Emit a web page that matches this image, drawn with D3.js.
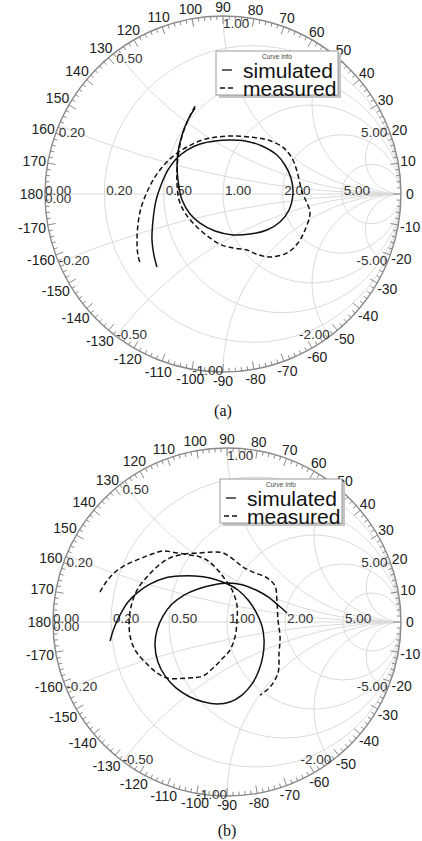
<!DOCTYPE html>
<html>
<head>
<meta charset="utf-8">
<script src="https://cdnjs.cloudflare.com/ajax/libs/d3/7.8.5/d3.min.js"></script>
<style>
  body { margin: 0; background: #fff; }
  svg text { font-family: "Liberation Sans", Arial, sans-serif; }
</style>
</head>
<body>
<svg id="chart" width="422" height="841"></svg>
<script>
// grid values of the smith chart
const resistances = [0, 0.2, 0.5, 1, 2, 5];
const reactances = [0.2, 0.5, 1, 2, 5, -0.2, -0.5, -1, -2, -5];
const angleLabels = d3.range(-170, 181, 10);
const legendNames = ["simulated", "measured"];
const captions = ["(a)", "(b)"];

// reflection coefficient [re, im], chart (a)
const simA = [
  [-0.157, 0.483], [-0.197, 0.416], [-0.230, 0.331], [-0.253, 0.236], [-0.258, 0.163],
  [-0.253, 0.079], [-0.230, -0.034], [-0.185, -0.112], [-0.129, -0.163], [-0.045, -0.208],
  [0.056, -0.230], [0.152, -0.225], [0.247, -0.202], [0.320, -0.157], [0.371, -0.090],
  [0.393, 0.006], [0.382, 0.090], [0.348, 0.163], [0.303, 0.219], [0.219, 0.270],
  [0.124, 0.298], [0.039, 0.303], [-0.045, 0.298], [-0.129, 0.281], [-0.202, 0.247],
  [-0.264, 0.197], [-0.309, 0.135], [-0.348, 0.051], [-0.376, -0.034], [-0.393, -0.146],
  [-0.399, -0.258], [-0.388, -0.343], [-0.371, -0.410]
];
const measA = [
  [-0.157, 0.494], [-0.191, 0.427], [-0.225, 0.343], [-0.247, 0.247], [-0.258, 0.146],
  [-0.258, 0.051], [-0.247, -0.034], [-0.213, -0.107], [-0.152, -0.180], [-0.073, -0.247],
  [-0.006, -0.287], [0.056, -0.303], [0.135, -0.315], [0.185, -0.337], [0.264, -0.354],
  [0.360, -0.331], [0.421, -0.275], [0.461, -0.202], [0.489, -0.107], [0.472, -0.051],
  [0.444, 0.011], [0.421, 0.107], [0.393, 0.191], [0.343, 0.258], [0.253, 0.303],
  [0.152, 0.320], [0.056, 0.326], [-0.034, 0.320], [-0.118, 0.303], [-0.191, 0.270],
  [-0.264, 0.225], [-0.326, 0.169], [-0.382, 0.096], [-0.427, 0.011], [-0.461, -0.079],
  [-0.478, -0.174], [-0.483, -0.270], [-0.478, -0.343], [-0.466, -0.388]
];

// chart (b)
const simB = [
  [-0.672, -0.109], [-0.649, -0.034], [-0.615, 0.040], [-0.569, 0.115], [-0.511, 0.172],
  [-0.443, 0.218], [-0.356, 0.253], [-0.270, 0.264], [-0.184, 0.264], [-0.098, 0.253],
  [-0.011, 0.224], [0.063, 0.184], [0.121, 0.126], [0.167, 0.057], [0.201, -0.023],
  [0.213, -0.103], [0.207, -0.190], [0.184, -0.276], [0.144, -0.356], [0.086, -0.420],
  [0.017, -0.460], [-0.057, -0.471], [-0.132, -0.460], [-0.213, -0.431], [-0.293, -0.379],
  [-0.356, -0.310], [-0.397, -0.230], [-0.414, -0.132], [-0.402, -0.046], [-0.368, 0.034],
  [-0.316, 0.103], [-0.247, 0.155], [-0.167, 0.190], [-0.080, 0.213], [0.006, 0.224],
  [0.092, 0.213], [0.167, 0.184], [0.236, 0.144], [0.293, 0.098], [0.345, 0.052]
];
const measB = [
  [-0.730, 0.172], [-0.695, 0.230], [-0.655, 0.276], [-0.603, 0.316], [-0.546, 0.345],
  [-0.489, 0.368], [-0.431, 0.391], [-0.368, 0.408], [-0.287, 0.397], [-0.213, 0.385],
  [-0.155, 0.374], [-0.109, 0.351], [-0.063, 0.310], [-0.017, 0.253], [0.029, 0.184],
  [0.057, 0.098], [0.057, 0.000], [0.046, -0.086], [0.017, -0.161], [-0.029, -0.213],
  [-0.080, -0.264], [-0.138, -0.310], [-0.230, -0.322], [-0.345, -0.322], [-0.402, -0.293],
  [-0.454, -0.247], [-0.517, -0.178], [-0.552, -0.103], [-0.563, -0.006], [-0.552, 0.086],
  [-0.517, 0.184], [-0.460, 0.259], [-0.397, 0.322], [-0.328, 0.368], [-0.241, 0.391],
  [-0.155, 0.397], [-0.080, 0.402], [-0.023, 0.397], [0.034, 0.362], [0.092, 0.316],
  [0.149, 0.287], [0.230, 0.253], [0.276, 0.207], [0.287, 0.126], [0.293, 0.011],
  [0.305, -0.086], [0.299, -0.178], [0.293, -0.293], [0.247, -0.374], [0.190, -0.420]
];

const svg = d3.select("#chart");

function drawSmith(cfg) {
  const x = d3.scaleLinear().domain([-1, 1]).range([cfg.cx - cfg.R, cfg.cx + cfg.R]);
  const y = d3.scaleLinear().domain([-1, 1]).range([cfg.cy + cfg.R, cfg.cy - cfg.R]);
  const k = cfg.R; // pixels per unit of gamma
  const g = svg.append("g");

  g.append("clipPath").attr("id", cfg.id + "clip")
    .append("circle").attr("cx", x(0)).attr("cy", y(0)).attr("r", k);

  const grid = g.append("g").attr("clip-path", "url(#" + cfg.id + "clip)")
    .attr("fill", "none").attr("stroke", "#dadada").attr("stroke-width", 1);

  grid.append("line")
    .attr("x1", x(-1)).attr("x2", x(1)).attr("y1", y(0)).attr("y2", y(0));

  grid.selectAll("circle.r")
    .data(resistances.filter(r => r > 0))
    .enter().append("circle").attr("class", "r")
    .attr("cx", r => x(r / (1 + r)))
    .attr("cy", y(0))
    .attr("r", r => k / (1 + r));

  grid.selectAll("circle.x")
    .data(reactances)
    .enter().append("circle").attr("class", "x")
    .attr("cx", x(1))
    .attr("cy", v => y(1 / v))
    .attr("r", v => k / Math.abs(v));

  // outer ring
  g.append("circle")
    .attr("cx", x(0)).attr("cy", y(0)).attr("r", k)
    .attr("fill", "none").attr("stroke", "#8a8a8a").attr("stroke-width", 1.4);

  g.selectAll("line.tick")
    .data(d3.range(0, 360, 2))
    .enter().append("line").attr("class", "tick")
    .attr("x1", a => x(Math.cos(a * Math.PI / 180)))
    .attr("y1", a => y(Math.sin(a * Math.PI / 180)))
    .attr("x2", a => x((1 - (a % 10 == 0 ? 8 : 4) / k) * Math.cos(a * Math.PI / 180)))
    .attr("y2", a => y((1 - (a % 10 == 0 ? 8 : 4) / k) * Math.sin(a * Math.PI / 180)))
    .attr("stroke", "#8a8a8a").attr("stroke-width", 1);

  // angle labels around the rim
  g.selectAll("text.ang")
    .data(angleLabels)
    .enter().append("text").attr("class", "ang")
    .attr("text-anchor", "middle")
    .attr("dominant-baseline", "central")
    .attr("font-size", 14)
    .attr("fill", "#222")
    .text(a => a)
    .each(function(a) {
      const t = a * Math.PI / 180;
      const w = this.getComputedTextLength();
      const rr = 1 + (9 + Math.max(0, (w - 14) / 2) * Math.abs(Math.cos(t))) / k;
      d3.select(this).attr("x", x(rr * Math.cos(t))).attr("y", y(rr * Math.sin(t)));
    });

  // resistance labels on the real axis
  g.selectAll("text.rl")
    .data(resistances)
    .enter().append("text").attr("class", "rl")
    .attr("x", r => x((r - 1) / (r + 1)) + (r == 0 ? 0 : 2))
    .attr("y", y(0) - 4)
    .attr("dominant-baseline", "central")
    .attr("font-size", 13.5).attr("fill", "#333")
    .text(r => r.toFixed(2));

  g.append("text")
    .attr("x", x(-1)).attr("y", y(0) + 4)
    .attr("dominant-baseline", "central")
    .attr("font-size", 13.5).attr("fill", "#333")
    .text("0.00");

  // reactance labels where the arcs meet the rim
  g.selectAll("text.xl")
    .data(reactances)
    .enter().append("text").attr("class", "xl")
    .attr("x", v => x((v * v - 1) / (v * v + 1)))
    .attr("y", v => y(2 * v / (v * v + 1)) + (v > 0 ? 7 : -2))
    .attr("text-anchor", v => (Math.abs(v) > 1 || v == -1) ? "end" : "start")
    .attr("dominant-baseline", "central")
    .attr("font-size", 13.5).attr("fill", "#333")
    .text(v => v.toFixed(2));

  const line = d3.line()
    .x(d => x(d[0])).y(d => y(d[1]))
    .curve(d3.curveCatmullRom.alpha(0.5));

  g.append("path").datum(cfg.sim)
    .attr("d", line).attr("fill", "none")
    .attr("stroke", "#111").attr("stroke-width", 1.5);
  g.append("path").datum(cfg.meas)
    .attr("d", line).attr("fill", "none")
    .attr("stroke", "#111").attr("stroke-width", 1.5)
    .attr("stroke-dasharray", "5,3");

  // legend box
  const lx = cfg.cx - 7, ly = cfg.cy - 143;
  const lg = g.append("g");
  lg.append("rect").attr("x", lx + 3).attr("y", ly + 3).attr("width", 122).attr("height", 44)
    .attr("fill", "#c4c4c4");
  lg.append("rect").attr("x", lx).attr("y", ly).attr("width", 122).attr("height", 44)
    .attr("fill", "#fff").attr("stroke", "#9a9a9a").attr("stroke-width", 1);
  lg.append("text").attr("x", lx + 61).attr("y", ly + 5)
    .attr("text-anchor", "middle").attr("dominant-baseline", "central")
    .attr("font-size", 6.5).attr("fill", "#444").text("Curve Info");
  lg.append("line").attr("x1", lx + 6).attr("x2", lx + 16)
    .attr("y1", ly + 19).attr("y2", ly + 19).attr("stroke", "#111").attr("stroke-width", 1.3);
  lg.append("line").attr("x1", lx + 4).attr("x2", lx + 17)
    .attr("y1", ly + 37).attr("y2", ly + 37).attr("stroke", "#111").attr("stroke-width", 1.3)
    .attr("stroke-dasharray", "5,3");
  lg.selectAll("text.ln")
    .data(legendNames)
    .enter().append("text").attr("class", "ln")
    .attr("x", lx + 27).attr("y", (d, i) => ly + 19 + i * 18)
    .attr("dominant-baseline", "central")
    .attr("font-size", 21).attr("fill", "#111")
    .text(d => d);

  svg.append("text")
    .attr("x", cfg.cx).attr("y", cfg.capY)
    .attr("text-anchor", "middle").attr("dominant-baseline", "central")
    .style("font-family", "'Liberation Serif', 'Times New Roman', serif")
    .attr("font-size", 16).attr("fill", "#111")
    .text(cfg.caption);
}

drawSmith({id: "a", cx: 223, cy: 194, R: 178, sim: simA, meas: measA, caption: captions[0], capY: 410});
drawSmith({id: "b", cx: 227, cy: 622, R: 174, sim: simB, meas: measB, caption: captions[1], capY: 830});
</script>
</body>
</html>
